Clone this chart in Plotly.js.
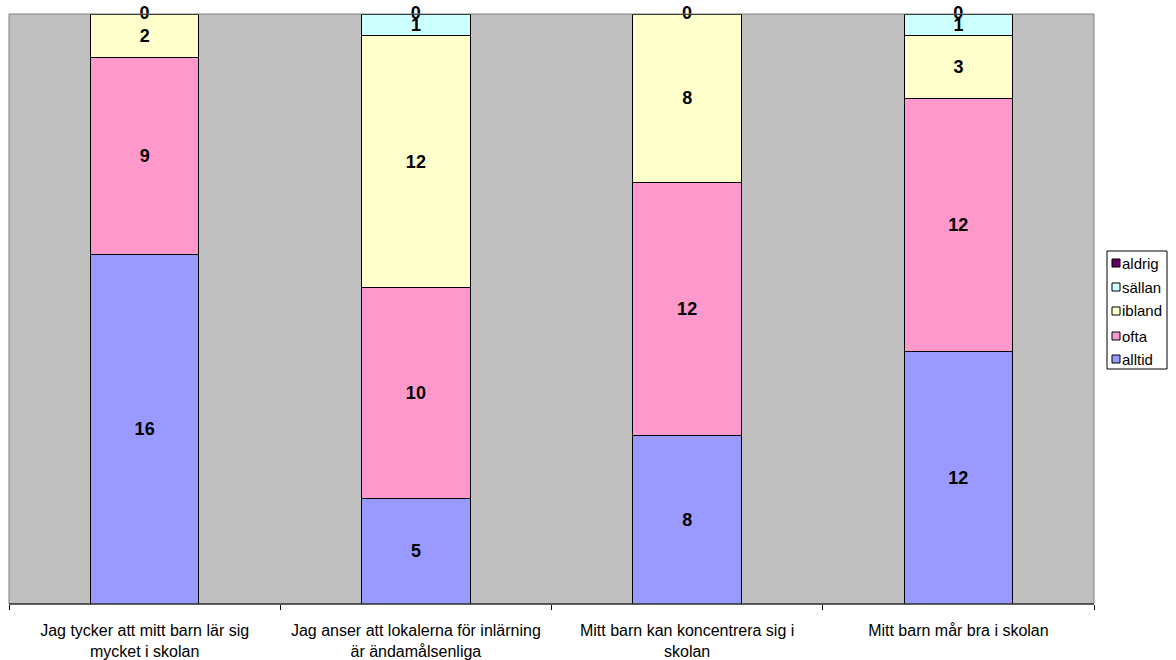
<!DOCTYPE html>
<html>
<head>
<meta charset="utf-8">
<script src="https://cdn.plot.ly/plotly-3.0.1.min.js"></script>
<style>html,body{margin:0;padding:0;background:#fff;}#chart{width:1176px;height:660px;}</style>
</head>
<body>
<div id="chart"></div>
<script>
const categories = ["Jag tycker att mitt barn lär sig<br>mycket i skolan", "Jag anser att lokalerna för inlärning<br>är ändamålsenliga", "Mitt barn kan koncentrera sig i<br>skolan", "Mitt barn mår bra i skolan"];
const alltid = [16, 5, 8, 12];
const ofta = [9, 10, 12, 12];
const ibland = [2, 12, 8, 3];
const sallan = [0, 1, 0, 1];
const aldrig = [0, 0, 0, 0];

const seriesNames = ["alltid", "ofta", "ibland", "sällan", "aldrig"];
const seriesValues = [alltid, ofta, ibland, sallan, aldrig];
const colors = ["#9999FF", "#FF99CC", "#FFFFCC", "#CCFFFF", "#660066"];

const FONT = "Liberation Sans, Arial, sans-serif";
const W = 1176, H = 660;
const M = {l: 9, r: 82, t: 14, b: 56};
const plotW = W - M.l - M.r, plotH = H - M.t - M.b;
const px2x = px => (px - M.l) / plotW;
const py2y = py => (H - M.b - py) / plotH;

const traces = seriesNames.map((name, i) => ({
  type: "bar",
  name: name,
  x: categories,
  y: seriesValues[i],
  text: seriesValues[i].map(v => v === 0 ? "" : String(v)),
  textposition: "inside",
  insidetextanchor: "middle",
  textangle: 0,
  constraintext: "none",
  textfont: {family: FONT, size: 18, color: "#000", weight: "bold"},
  marker: {color: colors[i], line: {color: "#000", width: 1}},
  hoverinfo: "skip",
  cliponaxis: false,
  showlegend: false
}));

// zero-valued top segments: label at the top of each 100% stack
const totals = categories.map((c, j) => seriesValues.reduce((s, arr) => s + arr[j], 0));
const topLabelsY = totals.map(t => 100 * t / t);
traces.push({
  type: "scatter",
  mode: "text",
  x: categories,
  y: topLabelsY,
  text: aldrig.map(String),
  textposition: "middle center",
  textfont: {family: FONT, size: 18, color: "#000", weight: "bold"},
  showlegend: false,
  hoverinfo: "skip",
  cliponaxis: false
});

// legend (drawn as shapes + annotations, top-to-bottom reversed order)
const shapes = [
  {type: "rect", xref: "paper", yref: "paper", x0: 0, x1: 1, y0: 0, y1: 1,
   line: {color: "#808080", width: 1}, fillcolor: "rgba(0,0,0,0)", layer: "above"},
  {type: "line", xref: "paper", yref: "paper", x0: 0, x1: 1, y0: 0, y1: 0,
   line: {color: "#000", width: 1}, layer: "above"},
  {type: "rect", xref: "paper", yref: "paper", x0: px2x(1107), x1: px2x(1167), y0: py2y(369), y1: py2y(251),
   line: {color: "#000", width: 1}, fillcolor: "#fff"}
];
const annotations = [];
const legendOrder = [4, 3, 2, 1, 0];
const legendY = [263, 287, 311, 336, 359];
legendOrder.forEach((si, k) => {
  const cy = legendY[k];
  shapes.push({type: "rect", xref: "paper", yref: "paper",
    x0: px2x(1112), x1: px2x(1120), y0: py2y(cy + 4), y1: py2y(cy - 4),
    line: {color: "#000", width: 1}, fillcolor: colors[si]});
  annotations.push({xref: "paper", yref: "paper", x: px2x(1120), y: py2y(cy),
    xanchor: "left", yanchor: "middle", showarrow: false, text: seriesNames[si],
    font: {family: FONT, size: 15, color: "#000"}});
});

const layout = {
  width: W,
  height: H,
  margin: M,
  paper_bgcolor: "#ffffff",
  plot_bgcolor: "#C0C0C0",
  barmode: "stack",
  barnorm: "percent",
  bargap: 0.6,
  showlegend: false,
  shapes: shapes,
  annotations: annotations,
  xaxis: {
    type: "category",
    categoryorder: "array",
    categoryarray: categories,
    tickson: "boundaries",
    ticks: "outside",
    ticklen: 5,
    tickcolor: "#000",
    showline: false,
    showgrid: false,
    zeroline: false,
    tickfont: {family: FONT, size: 16, color: "#000"},
    ticklabelstandoff: 15,
    fixedrange: true
  },
  yaxis: {
    range: [0, 100],
    showticklabels: false,
    ticks: "",
    showgrid: false,
    zeroline: false,
    showline: false,
    fixedrange: true
  }
};

Plotly.newPlot("chart", traces, layout, {displayModeBar: false, staticPlot: true});
</script>
</body>
</html>
